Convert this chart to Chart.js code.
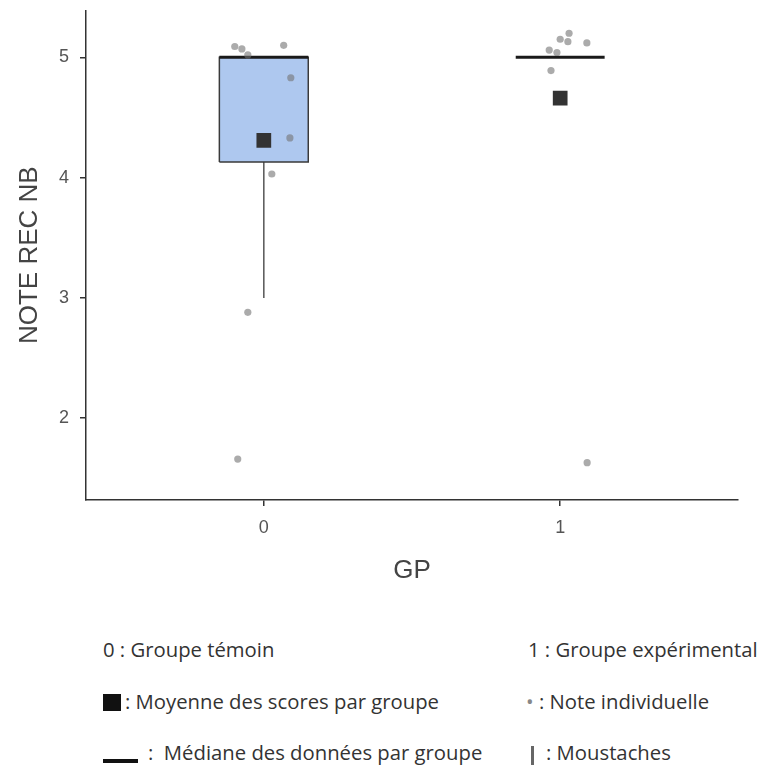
<!DOCTYPE html>
<html>
<head>
<meta charset="utf-8">
<script src="https://cdn.jsdelivr.net/npm/chart.js@4"></script>
<style>
  body { margin: 0; background: #fff; }
  #wrap { position: relative; width: 758px; height: 767px; }
  #legend { position: absolute; left: 0; top: 600px; width: 758px; font-family: "Open Sans", sans-serif; font-size: 20.3px; color: #333; }
  #legend .item { position: absolute; white-space: nowrap; line-height: 24px; }
  .meanbox { display: inline-block; width: 18px; height: 17px; background: #111; vertical-align: -2px; margin-right: 4px; }
  .medline { display: inline-block; width: 35px; height: 4px; background: #111; vertical-align: -3px; margin-right: 10px; }
  .dot { color: #888; }
  .whisk { display: inline-block; width: 3px; height: 19px; background: #666; vertical-align: -5px; margin-right: 12px; }
</style>
</head>
<body>
<div id="wrap">
  <canvas id="chart" width="758" height="600"></canvas>
  <div id="legend">
    <span class="item" style="left:103px; top:37px">0 : Groupe témoin</span>
    <span class="item" style="left:528px; top:37px">1 : Groupe expérimental</span>
    <span class="item" style="left:103px; top:89px"><span class="meanbox"></span>: Moyenne des scores par groupe</span>
    <span class="item" style="left:526px; top:89px"><span class="dot">•</span> : Note individuelle</span>
    <span class="item" style="left:103px; top:140px"><span class="medline"></span>:&nbsp; Médiane des données par groupe</span>
    <span class="item" style="left:531px; top:140px"><span class="whisk"></span>: Moustaches</span>
  </div>
</div>
<script>
const groups = [0, 1];
const whiskerLow = [3.0, 5.0];
const q1 = [4.13, 5.0];
const median = [5.0, 5.0];
const q3 = [5.0, 5.0];
const means = [4.31, 4.66];

// individual scores (jitter)
const pointGroup = [0, 0, 0, 0, 0, 0, 0, 0, 0, 1, 1, 1, 1, 1, 1, 1, 1];
const pointJitter = [-0.098, -0.074, -0.054, 0.067, 0.091, 0.088, 0.027, -0.054, -0.088,
                     0.03, 0.0, 0.026, 0.09, -0.037, -0.011, -0.031, 0.091];
const pointScore = [5.09, 5.07, 5.02, 5.10, 4.83, 4.33, 4.03, 2.88, 1.66,
                    5.20, 5.15, 5.13, 5.12, 5.06, 5.04, 4.89, 1.63];

const yTicks = [2, 3, 4, 5];
const xTicks = [0, 1];

const HALF = 0.15;
const AXIS = '#333';

const datasets = [];

groups.forEach((g, i) => {
  datasets.push({
    type: 'line',
    data: [{ x: g, y: whiskerLow[i] }, { x: g, y: q1[i] }],
    borderColor: '#555',
    borderWidth: 1.5,
    pointRadius: 0,
    order: 5,
  });
  if (q3[i] > q1[i]) {
    datasets.push({
      type: 'line',
      data: [
        { x: g - HALF, y: q1[i] },
        { x: g + HALF, y: q1[i] },
        { x: g + HALF, y: q3[i] },
        { x: g - HALF, y: q3[i] },
        { x: g - HALF, y: q1[i] },
      ],
      borderColor: '#3a3a3a',
      borderWidth: 1.5,
      backgroundColor: '#aec8ef',
      fill: 'shape',
      pointRadius: 0,
      tension: 0,
      order: 4,
    });
  }
  datasets.push({
    type: 'line',
    data: [{ x: g - HALF, y: median[i] }, { x: g + HALF, y: median[i] }],
    borderColor: '#1a1a1a',
    borderWidth: 3,
    pointRadius: 0,
    order: 3,
  });
});

datasets.push({
  type: 'scatter',
  data: pointScore.map((s, i) => ({ x: pointGroup[i] + pointJitter[i], y: s })),
  backgroundColor: 'rgba(115,115,115,0.6)',
  borderWidth: 0,
  pointRadius: 3.6,
  order: 2,
});

datasets.push({
  type: 'scatter',
  data: means.map((m, i) => ({ x: groups[i], y: m })),
  backgroundColor: '#333',
  borderWidth: 0,
  pointStyle: 'rect',
  pointRadius: 10.4,
  order: 1,
});

const tickFont = { family: '"Liberation Sans", Arial, sans-serif', size: 18 };
const titleFont = { family: '"Liberation Sans", Arial, sans-serif', size: 26 };

new Chart(document.getElementById('chart'), {
  type: 'scatter',
  data: { datasets },
  options: {
    responsive: false,
    animation: false,
    layout: { padding: { top: 10, right: 20, left: 0, bottom: 0 } },
    plugins: { legend: { display: false }, tooltip: { enabled: false } },
    scales: {
      x: {
        type: 'linear',
        min: -0.6,
        max: 1.6,
        afterBuildTicks: scale => { scale.ticks = xTicks.map(v => ({ value: v })); },
        afterFit: scale => {
          scale.height = 100;
          scale.paddingLeft = 0;
          scale.paddingRight = 0;
        },
        ticks: { color: '#555', font: tickFont, padding: 11 },
        grid: { drawOnChartArea: false, drawTicks: true, tickLength: 6, color: AXIS, lineWidth: 1.5 },
        border: { display: true, color: AXIS, width: 1.5 },
        title: { display: true, text: 'GP', color: '#444', font: titleFont, padding: { top: 14, bottom: 14 } },
      },
      y: {
        type: 'linear',
        min: 1.32,
        max: 5.39,
        afterBuildTicks: scale => { scale.ticks = yTicks.map(v => ({ value: v })); },
        afterFit: scale => {
          scale.width = 86;
          scale.paddingTop = 0;
          scale.paddingBottom = 0;
        },
        ticks: { color: '#555', font: tickFont, padding: 11 },
        grid: { drawOnChartArea: false, drawTicks: true, tickLength: 6, color: AXIS, lineWidth: 1.5 },
        border: { display: true, color: AXIS, width: 1.5 },
        title: { display: true, text: 'NOTE REC NB', color: '#444', font: titleFont, padding: { top: 14, bottom: 0 } },
      },
    },
  },
});
</script>
</body>
</html>
